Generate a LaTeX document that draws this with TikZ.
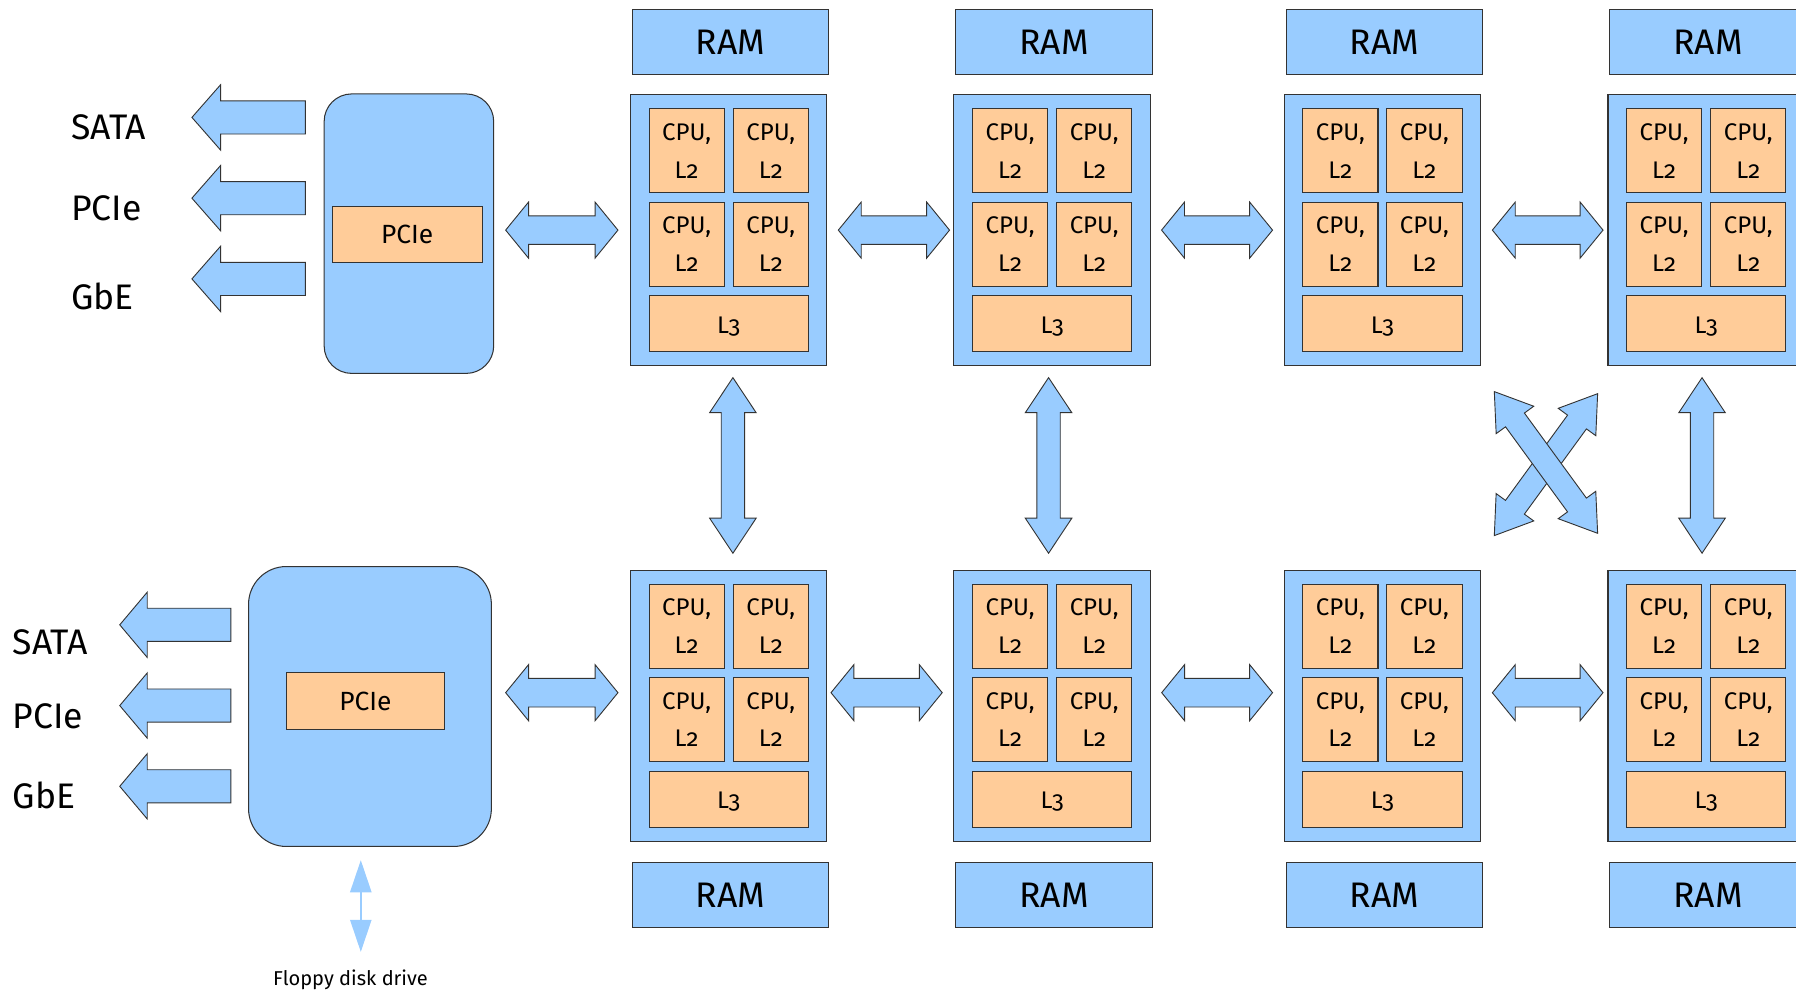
\documentclass[tikz,border=0pt]{standalone}
\usepackage{fontspec}
\setmainfont{Fira Sans}[Numbers=OldStyle]
\usetikzlibrary{calc,arrows.meta}
\definecolor{boxblue}{HTML}{99CCFF}
\definecolor{cacheorange}{HTML}{FFCC99}
\newcommand\labelfont{\fontsize{31}{36}\selectfont}
\newcommand\corefont{\fontsize{21}{33}\selectfont}
\tikzset{
  blue box/.style={draw=black!80, line width=0.9pt, fill=boxblue, inner sep=0pt},
  cache box/.style={draw=black!80, line width=0.9pt, fill=cacheorange, inner sep=0pt, align=center, font=\corefont},
  link/.style={draw=black!80, line width=0.8pt, fill=boxblue},
  floppy link/.style={draw=boxblue, line width=1.3pt, {Triangle[length=28pt,width=18.6pt]}-{Triangle[length=28pt,width=18.6pt]}},
}
\newcommand\bidir[5]{\path[link] let \p1=(#1), \p2=(#2), \n1={atan2(\y2-\y1,\x2-\x1)}, \n2={veclen(\x2-\x1,\y2-\y1)} in
  [shift={(\p1)}, rotate=\n1] (0pt,0pt) -- (#3pt,#4pt) -- (#3pt,#5pt) -- ({\n2-#3pt},#5pt) -- ({\n2-#3pt},#4pt) -- (\n2,0pt)
  -- ({\n2-#3pt},-#4pt) -- ({\n2-#3pt},-#5pt) -- (#3pt,-#5pt) -- (#3pt,-#4pt) -- cycle;}
\newcommand\outlink[5]{\path[link] let \p1=(#1), \p2=(#2), \n1={atan2(\y2-\y1,\x2-\x1)}, \n2={veclen(\x2-\x1,\y2-\y1)} in
  [shift={(\p1)}, rotate=\n1] (0pt,#5pt) -- ({\n2-#3pt},#5pt) -- ({\n2-#3pt},#4pt) -- (\n2,0pt)
  -- ({\n2-#3pt},-#4pt) -- ({\n2-#3pt},-#5pt) -- (0pt,-#5pt) -- cycle;}
\begin{document}
\begin{tikzpicture}[x=1pt,y=-1pt]
\useasboundingbox (0,0) rectangle (1568,869);
\clip (0,0) rectangle (1568,869);
\foreach \k/\px in {1/550,2/832.4,3/1120.7,4/1403.4}{
  \foreach \r/\py/\ry in {t/82.3/7.9, b/497.5/752.4}{
    \node[blue box, anchor=north west, minimum width=171.5pt, minimum height=57pt, font=\labelfont] (\r\k-ram) at (\px+1.6,\ry) {\raisebox{-1pt}{RAM}};
    \node[blue box, anchor=north west, minimum width=171.5pt, minimum height=236.3pt] (\r\k) at (\px,\py) {};
    \foreach \i/\dx/\dy in {1/16.2/12.3, 2/89.6/12.3, 3/16.2/93.7, 4/89.6/93.7}
      \node[cache box, anchor=north west, minimum width=65.7pt, minimum height=73.3pt] (\r\k-c\i) at (\px+\dx,\py+\dy) {CPU,\\L2};
    \node[cache box, anchor=north west, minimum width=139.1pt, minimum height=48.9pt, text depth=0pt] (\r\k-l3) at (\px+16.2,\py+175.2) {\raisebox{-2.5pt}{L3}};
  }
}
\node[blue box, rounded corners=24pt, minimum width=148pt, minimum height=244pt] (pch1) at (357,204) {};
\node[cache box, minimum width=131pt, minimum height=49pt, font=\fontsize{23}{27}\selectfont] (pch1-pcie) at (355.5,204.5) {PCIe};
\node[blue box, rounded corners=33pt, minimum width=212pt, minimum height=244.4pt] (pch2) at (323,616.8) {};
\node[cache box, minimum width=138pt, minimum height=49pt, font=\fontsize{23}{27}\selectfont] (pch2-pcie) at (319,612) {PCIe};
\foreach \t/\py in {SATA/122, PCIe/192.4, GbE/269.8}
  \node[anchor=base west, inner sep=0pt, font=\labelfont] (io1-\t) at (62,\py) {\t};
\foreach \t/\py in {SATA/571.6, PCIe/635.6, GbE/706}
  \node[anchor=base west, inner sep=0pt, font=\labelfont] (io2-\t) at (11,\py) {\t};
\foreach \dy in {-101.5,-31,39.5}
  \outlink{$(pch1.west)+(-16,\dy)$}{$(pch1.west)+(-115,\dy)$}{25}{28.5}{14.5};
\foreach \dy in {-71.3,-0.8,69.7}
  \outlink{$(pch2.west)+(-15,\dy)$}{$(pch2.west)+(-112,\dy)$}{24}{28.5}{14.5};
\bidir{$(pch1.east |- t1.west)+(10,0)$}{$(t1.west)+(-10.5,0)$}{20}{24.5}{12.5}
\bidir{$(t1.east)+(9.5,0)$}{$(t2.west)+(-3.4,0)$}{20}{24.5}{12.5}
\bidir{$(t2.east)+(9.3,0)$}{$(t3.west)+(-9.7,0)$}{20}{24.5}{12.5}
\bidir{$(t3.east)+(9.8,0)$}{$(t4.west)+(-3.9,0)$}{20}{24.5}{12.5}
\bidir{$(pch2.east |- b1.west)+(12,-11.35)$}{$(b1.west)+(-10.5,-11.35)$}{20}{24.5}{12.5}
\bidir{$(b1.east)+(3.1,-11.35)$}{$(b2.west)+(-9.8,-11.35)$}{20}{24.5}{12.5}
\bidir{$(b2.east)+(9.4,-11.35)$}{$(b3.west)+(-9.7,-11.35)$}{20}{24.5}{12.5}
\bidir{$(b3.east)+(9.8,-11.35)$}{$(b4.west)+(-3.9,-11.35)$}{20}{24.5}{12.5}
\foreach \k/\dx in {1/3.65,2/-3.15,4/-3.65}
  \bidir{$(t\k.south)+(\dx,10.2)$}{$(b\k.north)+(\dx,-14.5)$}{30.6}{20.3}{10.2};
\bidir{$(b3.north east)+(11.5,-29.9)$}{$(t4.south west)+(-8.6,24.2)$}{30.6}{20.3}{10.2}
\bidir{$(t3.south east)+(11.5,22.4)$}{$(b4.north west)+(-8.6,-31.9)$}{30.6}{20.3}{10.2}
\node[font=\fontsize{17.5}{21}\selectfont, inner sep=0pt] (fdd) at (306,855) {Floppy disk drive};
\coordinate (fdd-a) at (315,751);
\coordinate (fdd-b) at (315,831);
\draw[floppy link] (fdd-a) -- (fdd-b);
\end{tikzpicture}
\end{document}
